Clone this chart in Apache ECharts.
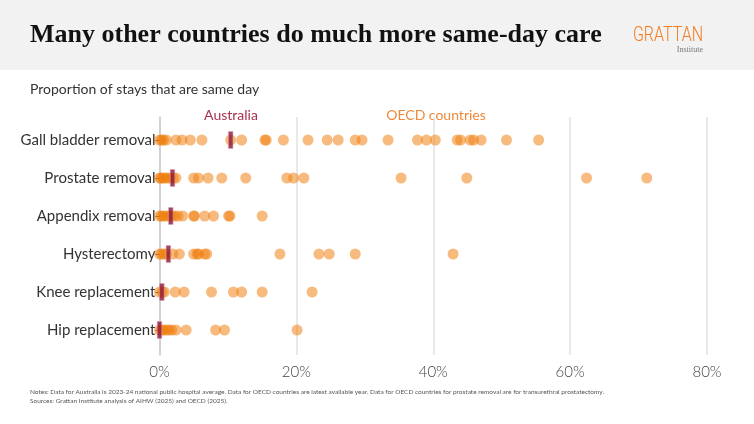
<!DOCTYPE html>
<html>
<head>
<meta charset="utf-8">
<script src="https://cdn.jsdelivr.net/npm/echarts@6/dist/echarts.min.js"></script>
<style>
html,body{margin:0;padding:0;background:#fff;}
#chart{width:754px;height:424px;}
</style>
</head>
<body>
<div id="chart"></div>
<script>
const categories = ['Gall bladder removal','Prostate removal','Appendix removal','Hysterectomy','Knee replacement','Hip replacement'];
const xTicks = [0, 20, 40, 60, 80];
const australia = [10.4, 1.9, 1.65, 1.3, 0.35, 0.0];
const gallBladderOECD = [0.0, 0.3, 0.6, 1.0, 2.4, 3.3, 4.5, 6.2, 10.4, 12.0, 15.4, 15.6, 18.1, 21.7, 24.5, 26.1, 28.6, 29.6, 33.4, 37.7, 39.0, 40.3, 43.5, 44.0, 45.4, 45.9, 47.0, 50.7, 55.4];
const prostateOECD = [0.0, 0.2, 0.5, 0.8, 1.2, 1.6, 2.0, 2.4, 5.0, 5.7, 7.1, 9.1, 12.6, 18.6, 19.6, 21.1, 35.3, 44.9, 62.4, 71.2];
const appendixOECD = [0.0, 0.3, 0.6, 1.0, 1.4, 1.8, 2.2, 2.7, 3.4, 5.0, 5.1, 6.6, 7.9, 10.1, 10.3, 15.0];
const hysterectomyOECD = [0.0, 0.3, 0.7, 1.0, 1.95, 2.9, 5.0, 5.5, 5.7, 6.6, 6.9, 17.6, 23.3, 24.8, 28.6, 42.9];
const kneeOECD = [0.0, 0.4, 0.7, 2.3, 3.6, 7.6, 10.8, 12.0, 15.0, 22.3];
const hipOECD = [0.0, 0.3, 0.6, 1.0, 1.4, 1.8, 2.4, 3.9, 8.2, 9.5, 20.1];

const oecdRows = [gallBladderOECD, prostateOECD, appendixOECD, hysterectomyOECD, kneeOECD, hipOECD];
const oecdData = [];
oecdRows.forEach((row, i) => row.forEach(v => oecdData.push([v, categories[i]])));
const ausData = australia.map((v, i) => [v, categories[i]]);

const FONT = 'Lato, "Open Sans", sans-serif';
const chart = echarts.init(document.getElementById('chart'), null, {renderer: 'canvas'});
chart.setOption({
  backgroundColor: '#ffffff',
  animation: false,
  graphic: [
    {type: 'rect', shape: {x: 0, y: 0, width: 754, height: 70}, style: {fill: '#f2f2f2'}, z: -10},
    {type: 'text', left: 30, top: 22, style: {text: 'Many other countries do much more same-day care', font: 'bold 26px "Liberation Serif", "DejaVu Serif", serif', fill: '#111'}},
    {type: 'text', x: 703, y: 26, scaleX: 0.8, style: {text: 'GRATTAN', font: '300 20px Roboto, sans-serif', fill: '#f47b20', align: 'right', verticalAlign: 'top'}},
    {type: 'text', x: 703, y: 46, style: {text: 'Institute', font: '8px "Liberation Serif", serif', fill: '#777', align: 'right', verticalAlign: 'top'}},
    {type: 'text', left: 30, top: 82, style: {text: 'Proportion of stays that are same day', font: '14px ' + FONT, fill: '#333'}},
    {type: 'text', x: 231, y: 115, style: {text: 'Australia', font: '14px ' + FONT, fill: '#a8324e', align: 'center', verticalAlign: 'middle'}},
    {type: 'text', x: 436, y: 115, style: {text: 'OECD countries', font: '14px ' + FONT, fill: '#f0883a', align: 'center', verticalAlign: 'middle'}},
    {type: 'text', left: 30, top: 388, style: {text: 'Notes: Data for Australia is 2023-24 national public hospital average. Data for OECD countries are latest available year. Data for OECD countries for prostate removal are for transurethral prostatectomy.', font: '6.5px ' + FONT, fill: '#555'}},
    {type: 'text', left: 30, top: 397, style: {text: 'Sources: Grattan Institute analysis of AIHW (2025) and OECD (2025).', font: '6.5px ' + FONT, fill: '#555'}}
  ],
  grid: [
    {left: 159.5, right: 47, top: 121, height: 228},
    {left: 159.5, right: 47, top: 117, height: 238}
  ],
  xAxis: [
    {gridIndex: 0, type: 'value', min: 0, max: 80, interval: 20, show: false},
    {gridIndex: 1, type: 'value', min: 0, max: 80, interval: 20,
     axisLine: {show: false}, axisTick: {show: false},
     splitLine: {show: true, lineStyle: {color: '#e2e2e2', width: 1.5}},
     axisLabel: {formatter: v => xTicks.includes(v) ? v + '%' : '', fontSize: 15, color: '#444', fontFamily: FONT, fontWeight: 300, margin: 10}}
  ],
  yAxis: [
    {gridIndex: 0, type: 'category', data: categories, inverse: true,
     axisLine: {show: false},
     axisTick: {show: true, alignWithLabel: true, length: 4, lineStyle: {color: '#444'}},
     axisLabel: {fontSize: 15, color: '#333', fontFamily: FONT, margin: 4},
     splitLine: {show: false}},
    {gridIndex: 1, type: 'value', min: 0, max: 1,
     axisLine: {show: true, lineStyle: {color: '#c8c8c8', width: 1.5}},
     axisTick: {show: false}, axisLabel: {show: false}, splitLine: {show: false}}
  ],
  series: [
    {type: 'scatter', name: 'OECD countries', xAxisIndex: 0, yAxisIndex: 0, data: oecdData,
     symbol: 'circle', symbolSize: 11, itemStyle: {color: '#f07d0a', opacity: 0.52}, z: 3},
    {type: 'scatter', name: 'Australia', xAxisIndex: 0, yAxisIndex: 0, data: ausData,
     symbol: 'rect', symbolSize: [4.5, 17], itemStyle: {color: '#8e1537', borderColor: '#d9a3b0', borderWidth: 0.5}, z: 5}
  ]
});
</script>
</body>
</html>
